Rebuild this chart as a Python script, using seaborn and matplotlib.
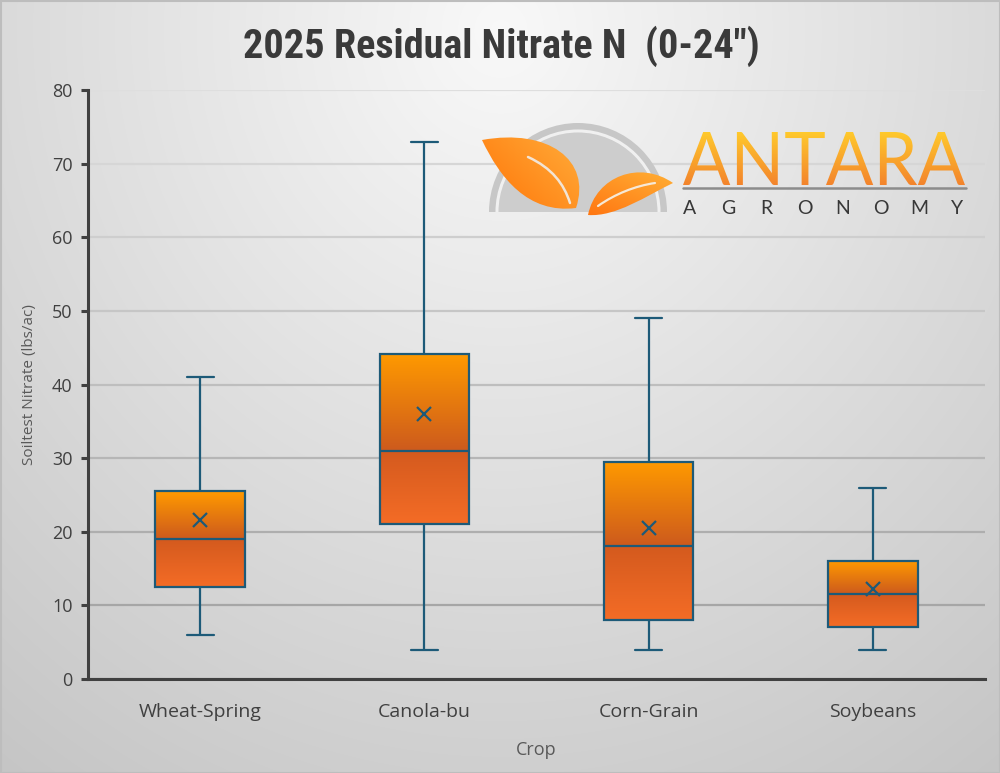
import numpy as np
import pandas as pd
import matplotlib
matplotlib.use("Agg")
import matplotlib.pyplot as plt
import seaborn as sns
from matplotlib.path import Path
from matplotlib.patches import PathPatch, Wedge, Arc, Rectangle
from matplotlib.textpath import TextPath
from matplotlib.font_manager import FontProperties
from matplotlib.colors import to_rgb
import matplotlib.transforms as mtransforms

# ---------------- data ----------------
crops = ["Wheat-Spring", "Canola-bu", "Corn-Grain", "Soybeans"]
mins = [6, 4, 4, 4]
q1s = [12.5, 21, 8, 7]
medians = [19, 31, 18, 11.5]
q3s = [25.5, 44.2, 29.5, 16]
maxs = [41, 73, 49, 26]
means = [21.6, 36.0, 20.5, 12.2]
yticks = [0, 10, 20, 30, 40, 50, 60, 70, 80]

title = "2025 Residual Nitrate N  (0-24\")"
xlabel = "Crop"
ylabel = "Soiltest Nitrate (lbs/ac)"

# five-number summary as rows so that seaborn's quartiles reproduce them exactly
df = pd.DataFrame({
    "Crop": np.repeat(crops, 5),
    "Nitrate": np.ravel(np.column_stack([mins, q1s, medians, q3s, maxs])),
})

EDGE = "#1D5A78"
TXT = "#404040"

sns.set_theme(style="white")
plt.rcParams["font.family"] = ["Open Sans", "DejaVu Sans"]

W, H = 1000, 773
fig = plt.figure(figsize=(10, 7.73), dpi=100)

# ---------------- background (radial gradient) ----------------
bg = fig.add_axes([0, 0, 1, 1], zorder=-10)
yy, xx = np.mgrid[0:H:2, 0:W:2]
v = 0.975 - np.sqrt(((xx - 500) / 4167.0) ** 2 + ((yy - 30) / 4562.0) ** 2)
v = np.clip(v, 0, 1)
bg.imshow(np.dstack([v, v, v]), extent=[0, W, H, 0], aspect="auto", interpolation="bilinear")
bg.add_patch(Rectangle((0.5, 0.5), W - 1, H - 1, fill=False, ec="#BDBDBD", lw=1.5))
bg.set_xlim(0, W)
bg.set_ylim(H, 0)
bg.axis("off")

# ---------------- main axes ----------------
ax = fig.add_axes([88 / W, 1 - 679 / H, (985 - 88) / W, (679 - 90) / H])
ax.set_facecolor("none")

sns.boxplot(data=df, x="Crop", y="Nitrate", order=crops, whis=(0, 100), width=0.40,
            color="#E8701A", linecolor=EDGE, linewidth=1.6, fliersize=0,
            capwidths=0.12, ax=ax)


def vgrad(c_top, c_bot, n=256):
    a = np.array(to_rgb(c_top))
    b = np.array(to_rgb(c_bot))
    t = np.linspace(0, 1, n)[:, None]
    return (a * (1 - t) + b * t)[:, None, :]


g_top = vgrad("#FF9A00", "#CD5A1D")
g_bot = vgrad("#D45A1E", "#F46C26")

boxes = list(ax.patches)
for patch, med in zip(boxes, medians):
    ext = patch.get_path().get_extents()
    x0, x1, q1v, q3v = ext.x0, ext.x1, ext.y0, ext.y1
    patch.set_facecolor("none")
    patch.set_zorder(5)
    ax.imshow(g_top, extent=[x0, x1, med, q3v], aspect="auto", zorder=4, interpolation="bilinear")
    ax.imshow(g_bot, extent=[x0, x1, q1v, med], aspect="auto", zorder=4, interpolation="bilinear")

for ln in ax.lines:
    ln.set_zorder(5)

sns.pointplot(x=crops, y=means, order=crops, linestyle="none", marker="x", color=EDGE,
              markersize=10, markeredgewidth=1.6, errorbar=None, ax=ax, zorder=6)

ax.set_xlim(-0.5, 3.5)
ax.set_ylim(0, 80)
ax.set_yticks(yticks)
ax.set_xticks(range(len(crops)))
ax.set_xticklabels(crops)

ax.tick_params(axis="y", length=5, width=2.2, color=TXT, direction="out", pad=6,
               labelsize=13, labelcolor=TXT, left=True)
ax.tick_params(axis="x", length=0, pad=17, labelsize=14, labelcolor=TXT)

for s in ["top", "right"]:
    ax.spines[s].set_visible(False)
for s in ["left", "bottom"]:
    ax.spines[s].set_linewidth(2.2)
    ax.spines[s].set_color(TXT)
    ax.spines[s].set_zorder(7)

ax.yaxis.grid(True, lw=1.6)
ax.xaxis.grid(False)
ax.set_axisbelow(True)
for val, gl in zip(yticks, ax.get_ygridlines()):
    c = 0.62 + 0.25 * (val / 80.0)
    gl.set_color((c, c, c))

ax.set_xlabel(xlabel, fontsize=13, color="#595959")
ax.xaxis.set_label_coords(0.5, -0.106)
ax.set_ylabel(ylabel, fontsize=11, color="#595959")
ax.yaxis.set_label_coords(-0.057, 0.5)

fig.text(0.501, 1 - 58 / H, title, ha="center", va="baseline", fontsize=29,
         fontweight="bold", color="#3A3A3A",
         family=["Roboto Condensed", "Liberation Sans Narrow", "Roboto", "DejaVu Sans"])

# ---------------- logo ----------------
ov = fig.add_axes([0, 0, 1, 1], zorder=20)
ov.set_facecolor("none")
ov.axis("off")


def Y(y):
    return H - y


def grad_fill(path_patch, extent, c1, c2, direction=(0.0, -1.0)):
    l, r, b, t = extent
    n = 128
    gx, gy = np.meshgrid(np.linspace(l, r, n), np.linspace(t, b, n))
    d = np.array(direction, float)
    d = d / np.linalg.norm(d)
    p = gx * d[0] + gy * d[1]
    p = (p - p.min()) / (p.max() - p.min())
    a = np.array(to_rgb(c1))
    bcol = np.array(to_rgb(c2))
    img = a[None, None, :] * (1 - p[..., None]) + bcol[None, None, :] * p[..., None]
    im = ov.imshow(img, extent=[l, r, b, t], aspect="auto", zorder=3, interpolation="bilinear")
    im.set_clip_path(path_patch)


# grey semicircle
cx, cy = 578, Y(212)
ov.add_patch(Wedge((cx, cy), 89, 0, 180, fc="#C7C7C7", ec="none", zorder=1))
ov.add_patch(Wedge((cx, cy), 79.5, 0, 180, fc="#CDCDCD", ec="none", zorder=1.5))
ov.add_patch(Arc((cx, cy), 2 * 81, 2 * 81, theta1=0, theta2=180, color="#F0F0F0", lw=2.2, zorder=2))

# big leaf
codes = [Path.MOVETO, Path.CURVE4, Path.CURVE4, Path.CURVE4,
         Path.CURVE4, Path.CURVE4, Path.CURVE4, Path.CLOSEPOLY]
big = Path([(482, Y(140)), (548, Y(128)), (592, Y(160)), (576, Y(208)),
            (528, Y(214)), (500, Y(178)), (482, Y(140)), (482, Y(140))], codes)
bp = PathPatch(big, fc="none", ec="none")
ov.add_patch(bp)
grad_fill(bp, [480, 592, Y(214), Y(126)], "#FFB440", "#FF7206", direction=(-1.0, -1.0))
vein1 = Path([(528, Y(157)), (552, Y(168)), (564, Y(184)), (570, Y(203))],
             [Path.MOVETO, Path.CURVE4, Path.CURVE4, Path.CURVE4])
ov.add_patch(PathPatch(vein1, fc="none", ec="#F2E4D4", lw=1.8, zorder=4, capstyle="round"))

# small leaf
small = Path([(588, Y(215)), (596, Y(176)), (640, Y(160)), (673, Y(183)),
              (646, Y(196)), (616, Y(217)), (588, Y(215)), (588, Y(215))], codes)
sp = PathPatch(small, fc="none", ec="none")
ov.add_patch(sp)
grad_fill(sp, [586, 675, Y(218), Y(160)], "#FFB83A", "#FF7410", direction=(-0.4, -1.0))
vein2 = Path([(598, Y(206)), (615, Y(194)), (635, Y(186)), (655, Y(183))],
             [Path.MOVETO, Path.CURVE4, Path.CURVE4, Path.CURVE4])
ov.add_patch(PathPatch(vein2, fc="none", ec="#F6E8D6", lw=1.6, zorder=4, capstyle="round"))

# ANTARA
fp = FontProperties(family=["Lato", "Open Sans", "DejaVu Sans"], weight="normal")
tp = TextPath((0, 0), "ANTARA", size=100, prop=fp)
bb = tp.get_extents()
tr = (mtransforms.Affine2D().translate(-bb.x0, -bb.y0)
      .scale((965 - 683) / bb.width, (185 - 132) / bb.height)
      .translate(683, Y(185)))
tpath = tr.transform_path(tp)
tpatch = PathPatch(tpath, fc="none", ec="none")
ov.add_patch(tpatch)
grad_fill(tpatch, [683, 965, Y(186), Y(131)], "#FFCB2C", "#F3822C", direction=(0.0, -1.0))

ov.plot([683, 966], [Y(188), Y(188)], color="#8C8C8C", lw=1.8, zorder=4)

for i, ch in enumerate("AGRONOMY"):
    ov.text(690 + i * 38.14, Y(213.5), ch, ha="center", va="baseline", fontsize=14,
            color="#383838", family=["Lato", "Open Sans", "DejaVu Sans"], fontweight="normal",
            zorder=5)

ov.set_xlim(0, W)
ov.set_ylim(0, H)

fig.savefig("out.png", dpi=100)
